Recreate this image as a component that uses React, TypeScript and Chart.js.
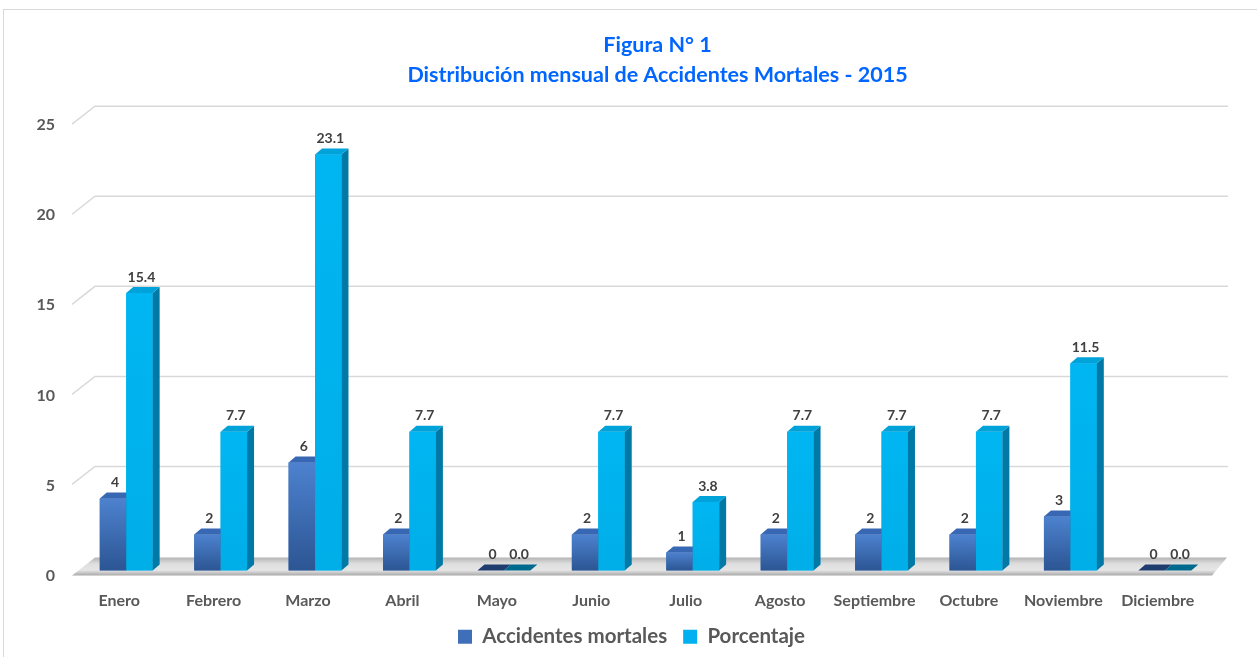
import React, { useEffect, useRef } from "react";
import { Chart, registerables } from "chart.js";
Chart.register(...registerables);

const months = ["Enero", "Febrero", "Marzo", "Abril", "Mayo", "Junio", "Julio", "Agosto", "Septiembre", "Octubre", "Noviembre", "Diciembre"];
const accidentes = [4, 2, 6, 2, 0, 2, 1, 2, 2, 2, 3, 0];
const porcentaje = [15.4, 7.7, 23.1, 7.7, 0.0, 7.7, 3.8, 7.7, 7.7, 7.7, 11.5, 0.0];
const yTicks = [0, 5, 10, 15, 20, 25];
const titleLines = ["Figura N° 1", "Distribución mensual de Accidentes Mortales - 2015"];
const seriesNames = ["Accidentes mortales", "Porcentaje"];

const FONT = "Lato";
const BAR_DX = 7;
const BAR_DY = 6;

const styles = [
  { front: ["#4d82cf", "#2c5593"], side: "#264a82", top: "#3868b3", flat: "#1f3d6e", legend: "#3f6fb8", label: (v: number) => String(v) },
  { front: ["#00b6f2", "#00aee8"], side: "#0079a6", top: "#00a2da", flat: "#006a8e", legend: "#00b0f0", label: (v: number) => v.toFixed(1) },
];

const threeD = {
  id: "threeD",
  beforeDraw(chart: any) {
    const ctx = chart.ctx;
    ctx.save();
    ctx.strokeStyle = "#d9d9d9";
    ctx.lineWidth = 1;
    ctx.strokeRect(3.5, 9.5, 1400, 800);
    ctx.restore();
  },
  afterLayout(chart: any) {
    const t = chart.titleBlock;
    if (t) {
      t.left += 12;
      t.right += 12;
    }
    const lg = chart.legend;
    if (lg) {
      lg.left -= 14;
      lg.right -= 14;
    }
  },
  beforeDatasetsDraw(chart: any) {
    const ctx = chart.ctx;
    const { left, right } = chart.chartArea;
    const ys = chart.scales.y;
    const base = ys.getPixelForValue(0);
    ctx.save();
    ctx.strokeStyle = "#d9d9d9";
    ctx.lineWidth = 1.5;
    for (const t of yTicks) {
      if (t === 0) continue;
      const y = ys.getPixelForValue(t);
      ctx.beginPath();
      ctx.moveTo(left - 7, y + 4);
      ctx.lineTo(left + 16, y - 14);
      ctx.lineTo(right + 16, y - 14);
      ctx.stroke();
    }
    const g = ctx.createLinearGradient(0, base - 13, 0, base + 5);
    g.addColorStop(0, "#b4b4b4");
    g.addColorStop(0.35, "#dedede");
    g.addColorStop(0.7, "#e6e6e6");
    g.addColorStop(1, "#a8a8a8");
    ctx.fillStyle = g;
    ctx.beginPath();
    ctx.moveTo(left - 7, base + 5);
    ctx.lineTo(left + 16, base - 13);
    ctx.lineTo(right + 15, base - 13);
    ctx.lineTo(right, base + 5);
    ctx.closePath();
    ctx.fill();
    ctx.restore();
  },
  afterDatasetsDraw(chart: any) {
    const ctx = chart.ctx;
    ctx.save();
    chart.data.datasets.forEach((ds: any, di: number) => {
      const meta = chart.getDatasetMeta(di);
      const st = styles[di];
      meta.data.forEach((el: any, i: number) => {
        const { x, y, base, width } = el.getProps(["x", "y", "base", "width"], true);
        const l = x - width / 2;
        const r = x + width / 2;
        const v = ds.data[i];
        if (base - y > 0.5) {
          const g = ctx.createLinearGradient(0, y, 0, base);
          g.addColorStop(0, st.front[0]);
          g.addColorStop(1, st.front[1]);
          ctx.fillStyle = g;
          ctx.fillRect(l, y, width, base - y);
          ctx.fillStyle = st.side;
          ctx.beginPath();
          ctx.moveTo(r, y);
          ctx.lineTo(r + BAR_DX, y - BAR_DY);
          ctx.lineTo(r + BAR_DX, base - BAR_DY);
          ctx.lineTo(r, base);
          ctx.closePath();
          ctx.fill();
          ctx.fillStyle = st.top;
        } else {
          ctx.fillStyle = st.flat;
        }
        ctx.beginPath();
        ctx.moveTo(l, y);
        ctx.lineTo(l + BAR_DX, y - BAR_DY);
        ctx.lineTo(r + BAR_DX, y - BAR_DY);
        ctx.lineTo(r, y);
        ctx.closePath();
        ctx.fill();
        ctx.fillStyle = "#404040";
        ctx.font = `bold 14px ${FONT}`;
        ctx.textAlign = "center";
        ctx.textBaseline = "middle";
        ctx.fillText(st.label(v), x + 2, y - 16);
      });
    });
    ctx.restore();
  },
};

export default function App() {
  const ref = useRef<HTMLCanvasElement | null>(null);
  useEffect(() => {
    if (!ref.current) return;
    const chart = new Chart(ref.current, {
      type: "bar",
      data: {
        labels: months,
        datasets: [
          { label: seriesNames[0], data: accidentes, backgroundColor: styles[0].legend, categoryPercentage: 0.56, barPercentage: 1 },
          { label: seriesNames[1], data: porcentaje, backgroundColor: styles[1].legend, categoryPercentage: 0.56, barPercentage: 1 },
        ],
      },
      options: {
        responsive: true,
        maintainAspectRatio: false,
        animation: false,
        layout: { padding: { left: 0, right: 45, top: 0, bottom: 0 } },
        plugins: {
          title: {
            display: true,
            text: titleLines,
            color: "#0066ff",
            fullSize: false,
            font: { family: FONT, size: 21.5, weight: "bold", lineHeight: 1.4 },
            padding: { top: 30, bottom: 30 },
          },
          legend: {
            position: "bottom",
            fullSize: false,
            labels: {
              boxWidth: 14,
              boxHeight: 14,
              padding: 16,
              color: "#595959",
              font: { family: FONT, size: 20.5, weight: "bold" },
            },
          },
          tooltip: { enabled: false },
        },
        scales: {
          x: {
            grid: { display: false, drawTicks: false },
            border: { display: false },
            ticks: { color: "#595959", font: { family: FONT, size: 16, weight: "bold" }, padding: 21, labelOffset: -7 },
            afterFit: (s: any) => { s.height = 40; },
          },
          y: {
            min: 0,
            max: 25,
            grid: { display: false, drawTicks: false },
            border: { display: false },
            ticks: { stepSize: 5, color: "#595959", font: { family: FONT, size: 16, weight: "bold" }, padding: 24, labelOffset: 5 },
            afterFit: (s: any) => { s.width = 79; },
          },
        },
      },
      plugins: [threeD],
    } as any);
    return () => chart.destroy();
  }, []);
  return (
    <div style={{ position: "fixed", left: 0, top: 0, width: 1257, height: 657, background: "#fff" }}>
      <canvas ref={ref} />
    </div>
  );
}
